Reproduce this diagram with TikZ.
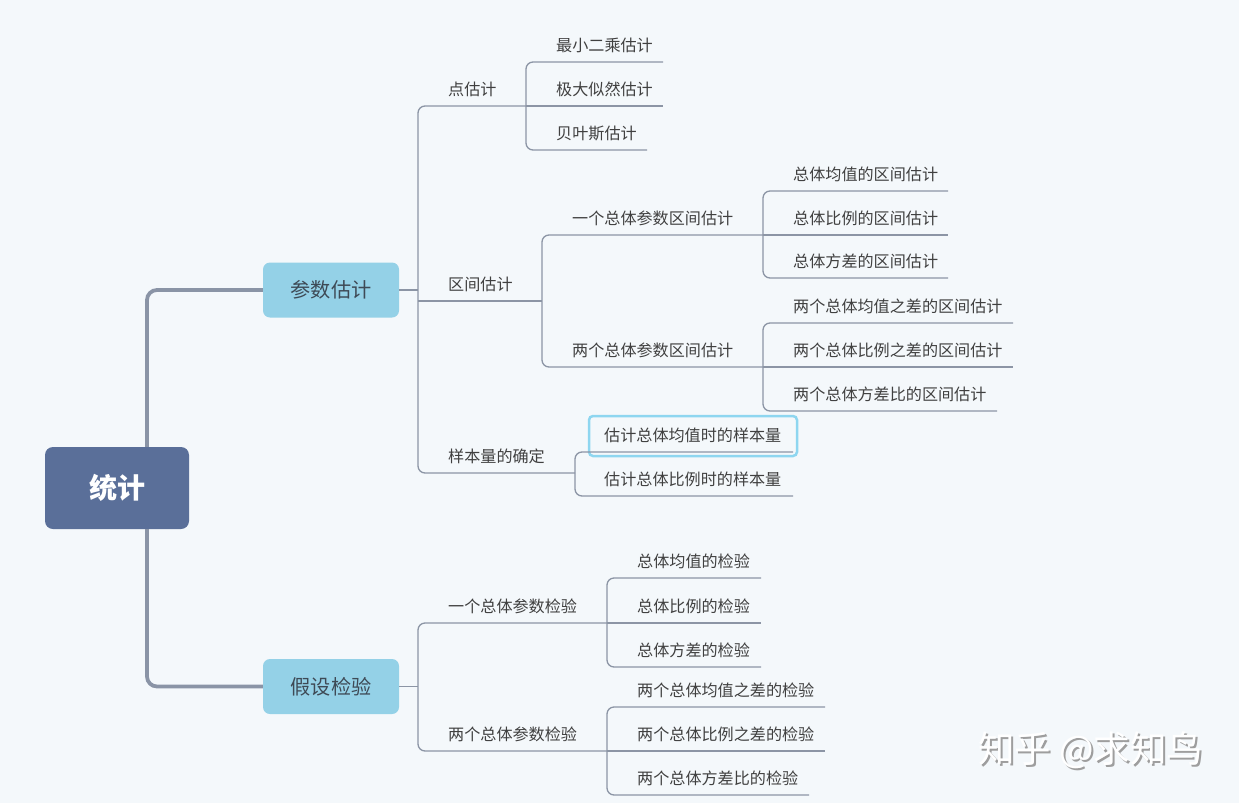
\documentclass[tikz,border=0pt]{standalone}
\usepackage{fontspec}
\setmainfont{Noto Sans CJK SC}
\definecolor{bgc}{HTML}{F4F8FB}
\definecolor{rootc}{HTML}{5A6F99}
\definecolor{lonec}{HTML}{94D1E7}
\definecolor{lonet}{HTML}{3E4A56}
\definecolor{linec}{HTML}{8C95A5}
\definecolor{trunkc}{HTML}{8A94A6}
\definecolor{txtc}{HTML}{404040}
\definecolor{hlc}{HTML}{8ED6F0}
\begin{document}
\begin{tikzpicture}[x=1pt,y=-1pt,
  ln/.style={draw=linec, line width=1.3pt},
  br/.style={ln, rounded corners=7pt},
  trunk/.style={draw=trunkc, line width=3.8pt, rounded corners=10pt},
  txt/.style={anchor=west, inner sep=0pt, text=txtc, font=\fontsize{16.1}{19}\selectfont},
  lone/.style={fill=lonec, rounded corners=7pt, minimum width=136pt, minimum height=55pt, text=lonet, inner sep=0pt, font=\fontsize{20.2}{24}\selectfont},
  rootbox/.style={fill=rootc, rounded corners=8pt, minimum width=144pt, minimum height=82pt, text=white, inner sep=0pt, font=\fontsize{28}{32}\selectfont\bfseries},
  wmark/.style={anchor=west, inner sep=0pt, font=\fontsize{36.5}{40}\selectfont}]
\fill[bgc] (0,0) rectangle (1239,803);
\useasboundingbox (0,0) rectangle (1239,803);

% main nodes
\node[rootbox] (root) at (117,488) {统计};
\node[lone] (pe) at (331,290) {参数估计};
\node[lone] (ht) at (331,686.5) {假设检验};

% trunk
\coordinate (tk) at (147,0);
\draw[trunk] (tk |- root.north) |- (pe.west);
\draw[trunk] (tk |- root.south) |- (ht.west);

% ---------- 参数估计 ----------
\coordinate (j1) at (418,290);
\draw[ln] (pe.east) -- (j1);
\draw[br] (526,106) -- (418,106) -- (418,473) -- (575,473);
\draw[ln] (418,301) -- (542,301);
\node[txt] (pt) at (448,89.5) {点估计};
\node[txt] (iv) at (448,284.5) {区间估计};
\node[txt] (ss) at (448,456.5) {样本量的确定};

% 点估计 children
\draw[br] (663,62) -- (526,62) -- (526,150) -- (647,150);
\draw[ln] (526,106) -- (663,106);
\node[txt] (pt1) at (556,45.5) {最小二乘估计};
\node[txt] (pt2) at (556,89.5) {极大似然估计};
\node[txt] (pt3) at (556,133.5) {贝叶斯估计};

% 区间估计 children
\draw[br] (763,235) -- (542,235) -- (542,367) -- (763,367);
\node[txt] (iv1) at (572,218.5) {一个总体参数区间估计};
\node[txt] (iv2) at (572,350.5) {两个总体参数区间估计};

\draw[br] (948,191) -- (763,191) -- (763,278) -- (948,278);
\draw[ln] (763,235) -- (948,235);
\node[txt] (iv11) at (793,174.5) {总体均值的区间估计};
\node[txt] (iv12) at (793,218.5) {总体比例的区间估计};
\node[txt] (iv13) at (793,261.5) {总体方差的区间估计};

\draw[br] (1013,323) -- (763,323) -- (763,411) -- (997,411);
\draw[ln] (763,367) -- (1013,367);
\node[txt] (iv21) at (793,306.5) {两个总体均值之差的区间估计};
\node[txt] (iv22) at (793,350.5) {两个总体比例之差的区间估计};
\node[txt] (iv23) at (793,394.5) {两个总体方差比的区间估计};

% 样本量 children
\draw[hlc, line width=2.5pt, rounded corners=4pt] (589,416) rectangle (797,456);
\draw[br] (793,452) -- (575,452) -- (575,496) -- (793,496);
\node[txt] (ss1) at (604,435.5) {估计总体均值时的样本量};
\node[txt] (ss2) at (604,479.5) {估计总体比例时的样本量};

% ---------- 假设检验 ----------
\coordinate (j2) at (418,686.5);
\draw[ln] (ht.east) -- (j2);
\draw[br] (607,623) -- (418,623) -- (418,751) -- (607,751);
\node[txt] (h1) at (448,606.5) {一个总体参数检验};
\node[txt] (h2) at (448,734.5) {两个总体参数检验};

\draw[br] (761,578) -- (607,578) -- (607,667) -- (761,667);
\draw[ln] (607,623) -- (761,623);
\node[txt] (h11) at (637,561.5) {总体均值的检验};
\node[txt] (h12) at (637,606.5) {总体比例的检验};
\node[txt] (h13) at (637,650.5) {总体方差的检验};

\draw[br] (825,707) -- (607,707) -- (607,795) -- (809,795);
\draw[ln] (607,751) -- (825,751);
\node[txt] (h21) at (637,690.5) {两个总体均值之差的检验};
\node[txt] (h22) at (637,734.5) {两个总体比例之差的检验};
\node[txt] (h23) at (637,778.5) {两个总体方差比的检验};

% watermark
\node[wmark, text=black!38] (wms) at (980,752) {知乎 @求知鸟};
\node[wmark, text=white] (wm) at (978,750) {知乎 @求知鸟};
\end{tikzpicture}
\end{document}
